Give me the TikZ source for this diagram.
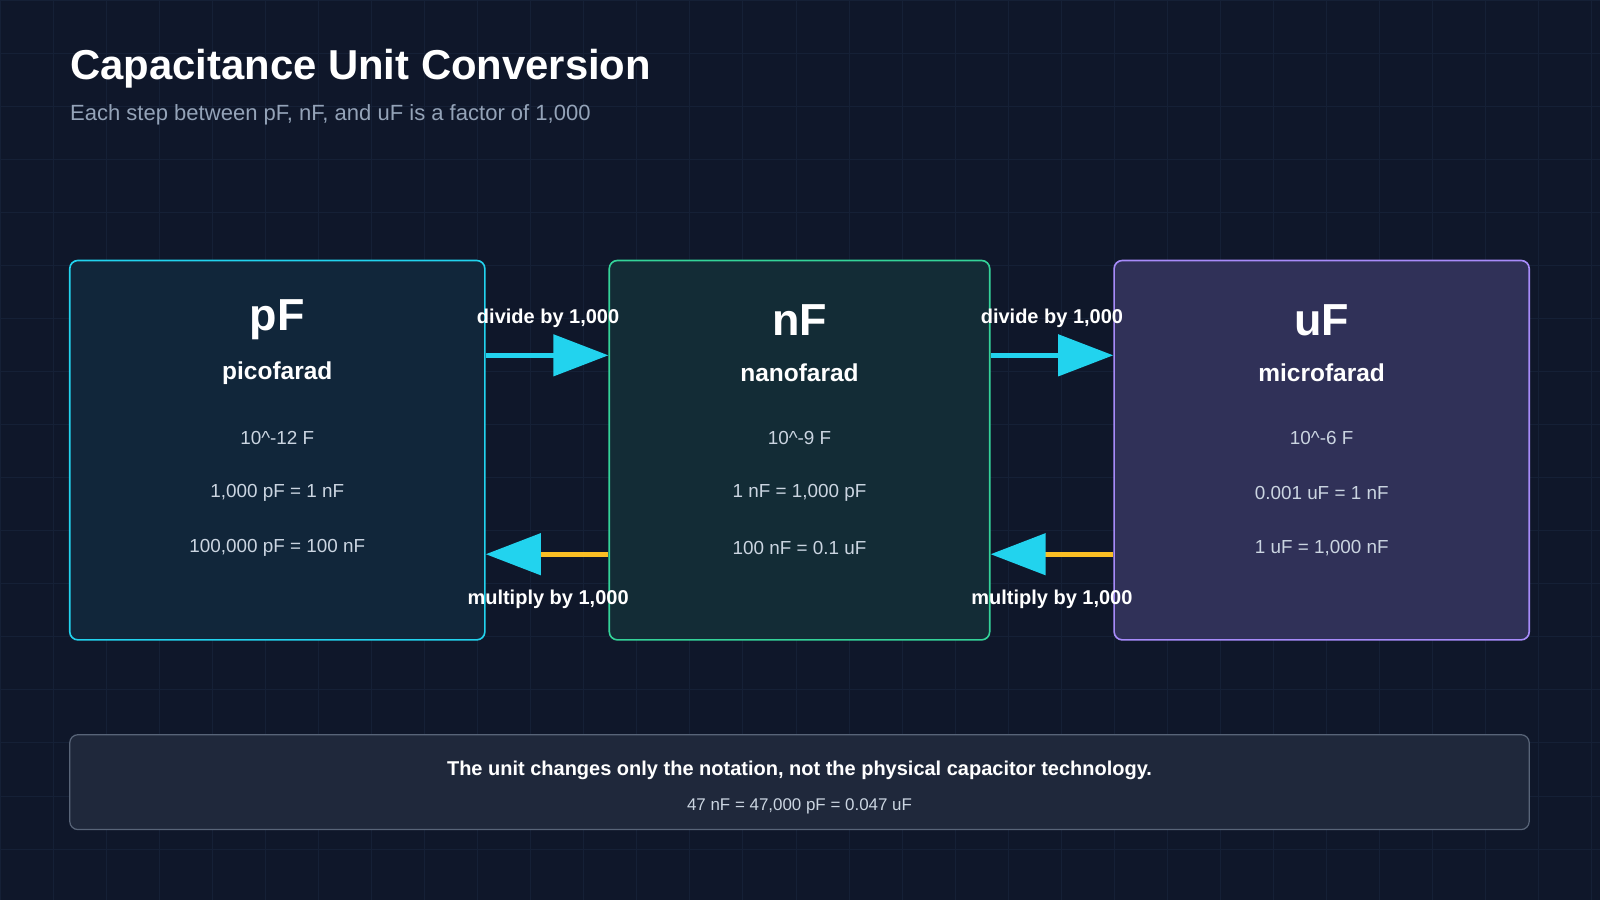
\documentclass[tikz,border=0pt]{standalone}
\usepackage{fontspec}
\setmainfont{Liberation Sans}
\usetikzlibrary{arrows.meta, positioning, calc}
\definecolor{bgc}{HTML}{0F172A}
\definecolor{gridc}{HTML}{152036}
\definecolor{cyanc}{HTML}{22D3EE}
\definecolor{greenc}{HTML}{34D399}
\definecolor{purplec}{HTML}{A78BFA}
\definecolor{orangec}{HTML}{FBBF24}
\definecolor{txtc}{HTML}{CBD5E1}
\definecolor{subc}{HTML}{94A3B8}
\tikzset{unitbox/.style = {
  % Box:
  rectangle, rounded corners=4pt, line width=0.8pt,
  minimum height=186pt, inner sep=0pt
  }}
\tikzset{big/.style = {text=white, font=\bfseries\fontsize{22}{26}\selectfont}}
\tikzset{longname/.style = {text=white, font=\bfseries\fontsize{12}{14}\selectfont}}
\tikzset{fact/.style = {text=txtc, font=\fontsize{9.25}{11}\selectfont}}
\tikzset{lbl/.style = {text=white, font=\bfseries\fontsize{9.8}{12}\selectfont}}
\tikzset{arrow/.style = {
  -{Triangle[length=27pt,width=20pt,color=cyanc]},
  line width=2.5pt
  }}
\begin{document}
\begin{tikzpicture}[x=0.5pt, y=-0.5pt]
% BACKGROUND
\fill[bgc] (0,0) rectangle (1568,882);
\foreach \i in {0,52,...,1568} \draw[gridc, line width=0.4pt] (\i,0) -- (\i,882);
\foreach \j in {0,52,...,882} \draw[gridc, line width=0.4pt] (0,\j) -- (1568,\j);
\useasboundingbox (0,0) rectangle (1568,882);

% TITLE
\node (title) [anchor=base west, text=white, font=\bfseries\fontsize{20.5}{24}\selectfont, inner sep=0pt] at (68,78) {Capacitance Unit Conversion};
\node (sub) [anchor=base west, text=subc, font=\fontsize{10.8}{13}\selectfont, inner sep=0pt] at (68,118) {Each step between pF, nF, and uF is a factor of 1,000};

% BOXES
\node (pF) [unitbox, draw=cyanc, fill=cyanc!8!bgc, minimum width=203.5pt] at (271.5,441) {};
\node (nF) [unitbox, draw=greenc, fill=greenc!11!bgc, minimum width=186.5pt] at (783.5,441) {};
\node (uF) [unitbox, draw=purplec, fill=purplec!22!bgc, minimum width=203.5pt] at (1295.5,441) {};

\foreach \b/\n/\x/\y/\z in {pF/picofarad/10\^{}-12 F/{1,000 pF = 1 nF}/{100,000 pF = 100 nF},
  nF/nanofarad/10\^{}-9 F/{1 nF = 1,000 pF}/{100 nF = 0.1 uF},
  uF/microfarad/10\^{}-6 F/{0.001 uF = 1 nF}/{1 uF = 1,000 nF}} {
  \node (\b-u) [big] at ($(\b.north)+(0,59)$) {\b};
  \node (\b-n) [longname] at ($(\b.north)+(0,111)$) {\n};
  \node (\b-a) [fact] at ($(\b.north)+(0,175)$) {\x};
  \node (\b-b) [fact] at ($(\b.north)+(0,229)$) {\y};
  \node (\b-c) [fact] at ($(\b.north)+(0,283)$) {\z};
}

% ARROWS
\draw [arrow, cyanc] ([yshift=46.5pt]pF.east) -- ([yshift=46.5pt]nF.west);
\draw [arrow, cyanc] ([yshift=46.5pt]nF.east) -- ([yshift=46.5pt]uF.west);
\draw [arrow, orangec] ([yshift=-51pt]nF.west) -- ([yshift=-51pt]pF.east);
\draw [arrow, orangec] ([yshift=-51pt]uF.west) -- ([yshift=-51pt]nF.east);
\node (d1) [lbl] at (537,312) {divide by 1,000};
\node (d2) [lbl] at (1031,312) {divide by 1,000};
\node (m1) [lbl] at (537,587) {multiply by 1,000};
\node (m2) [lbl] at (1031,587) {multiply by 1,000};

% NOTE
\node (note) [rectangle, rounded corners=4pt, draw=subc!55!bgc, fill=subc!12!bgc, line width=0.6pt, minimum width=715.5pt, minimum height=46.5pt] at (783.5,766.5) {};
\node (n1) [lbl] at (783.5,755) {The unit changes only the notation, not the physical capacitor technology.};
\node (n2) [fact, font=\fontsize{8.3}{10}\selectfont] at (783.5,790) {47 nF = 47,000 pF = 0.047 uF};
\end{tikzpicture}
\end{document}
